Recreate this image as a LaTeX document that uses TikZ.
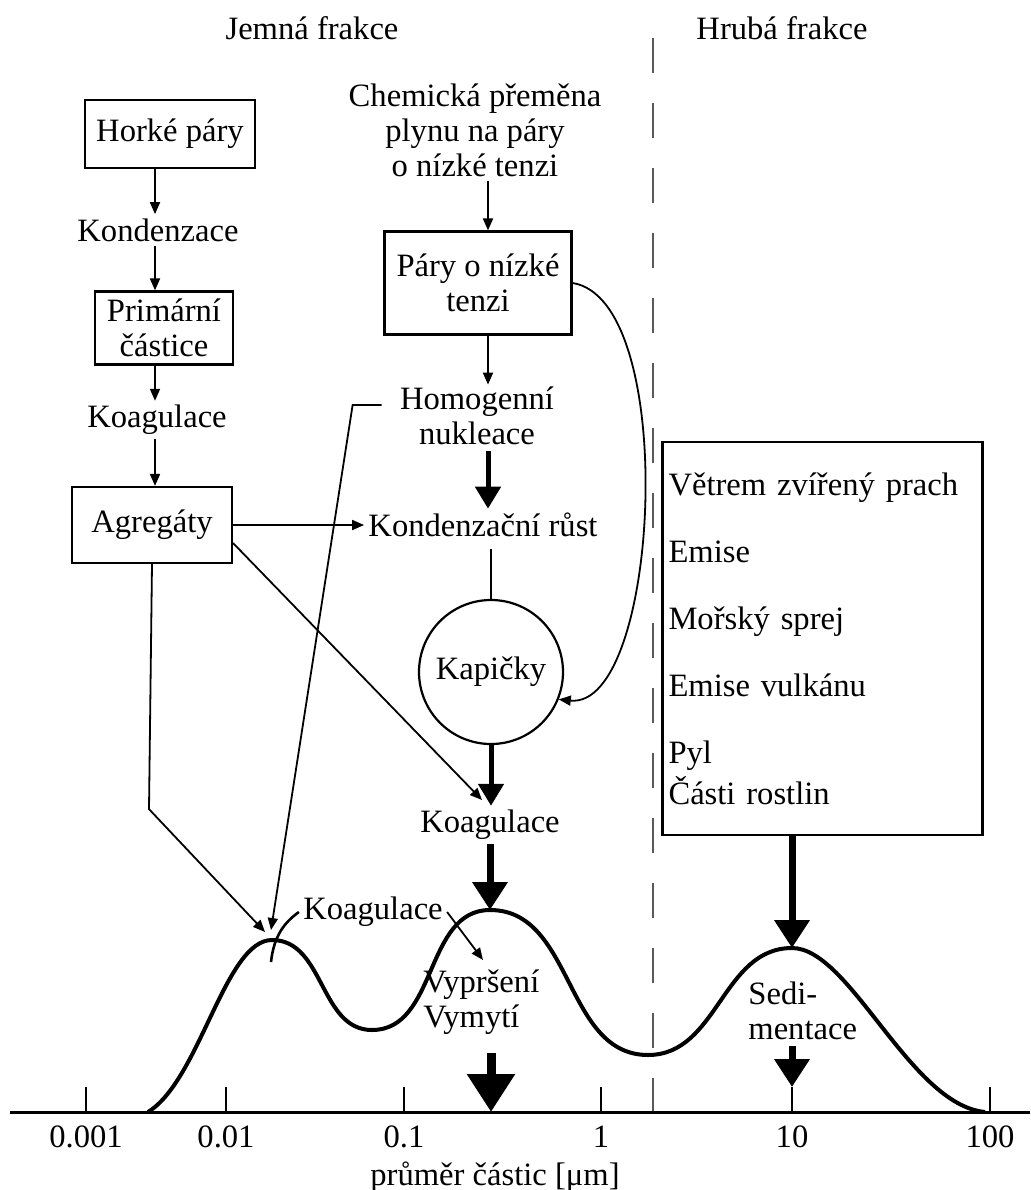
\documentclass[tikz,border=0pt]{standalone}
\usepackage{fontspec}
\setmainfont{Liberation Serif}
\usepackage{tikz}
\usetikzlibrary{calc,positioning,arrows.meta}
\tikzset{>={Triangle[width=5pt,length=6pt]}}

\begin{document}
\begin{tikzpicture}[
		x=0.5pt, y=-0.5pt,
		every node/.style={font=\fontsize{16.3}{17.5}\selectfont, inner sep=2pt},
		box/.style={draw, line width=1.1pt, align=center},
		link/.style={line width=0.9pt},
		midarrow/.style={line width=2.5pt, -{Triangle[width=12.5pt,length=11pt]}},
		bigarrow/.style={line width=3.5pt, -{Triangle[width=17pt,length=14pt]}},
		hugearrow/.style={line width=4.5pt, -{Triangle[width=23pt,length=19pt]}},
	]
	\useasboundingbox (0,0) rectangle (1030,1190);

	% columns and peaks
	\coordinate (leftcol) at (155,0);
	\coordinate (midcol) at (488,0);
	\coordinate (peak1) at (272,940);
	\coordinate (peak2) at (490,910);
	\coordinate (peak3) at (792,948);

	% titles and divider
	\node[name=jemna] at (312,28) {Jemná frakce};
	\node[name=hruba-title] at (782,28) {Hrubá frakce};
	\draw[line width=1pt, black!65, dash pattern=on 17.5pt off 15pt] (653,38) -- (653,1112);

	% left column
	\node[box, minimum width=85pt, minimum height=34pt, name=horke] at (170,134) {Horké páry};
	\node[name=kondenzace] at (158,230) {Kondenzace};
	\node[box, minimum width=69pt, minimum height=36.5pt, name=primarni] at (164,328) {Primární\\částice};
	\node[name=koagulace1] at (157,420) {Koagulace};
	\node[box, minimum width=80pt, minimum height=38pt, name=agregaty] at (152,525) {Agregáty};

	\draw[link,->] (horke.south -| leftcol) -- (kondenzace.north -| leftcol);
	\draw[link,->] (kondenzace.south -| leftcol) -- (primarni.north -| leftcol);
	\draw[link,->] (primarni.south -| leftcol) -- (koagulace1.north -| leftcol);
	\draw[link,->] (koagulace1.south -| leftcol) -- (agregaty.north -| leftcol);

	% middle column
	\node[align=center, name=chemicka] at (475,130) {Chemická přeměna\\plynu na páry\\o nízké tenzi};
	\node[box, minimum width=93.5pt, minimum height=51.5pt, name=pary] at (478,283) {Páry o nízké\\tenzi};
	\node[align=center, name=homogenni] at (477,416) {Homogenní\\nukleace};
	\node[name=kondrust] at (483,525) {Kondenzační růst};
	\node[draw, circle, line width=1.1pt, minimum size=72pt, name=kapicky] at (491,672) {Kapičky};
	\node[name=koagulace2] at (490,825) {Koagulace};

	\draw[link,->] (chemicka.south -| midcol) -- (pary.north -| midcol);
	\draw[link,->] (pary.south -| midcol) -- ($(homogenni.north -| midcol)+(0,2)$);
	\draw[midarrow] ($(homogenni.south -| midcol)+(0,2)$) -- (kondrust.north -| midcol);
	\draw[line width=1.3pt] ($(kondrust.south -| kapicky)+(0,8)$) -- (kapicky.north);
	\draw[midarrow] (kapicky.south) -- (koagulace2.north -| kapicky);
	\draw[bigarrow] (koagulace2.south -| peak2) -- (peak2);
	\draw[link,->] (pary.east) .. controls (680,300) and (660,710) .. (kapicky.-22);

	% links from the aggregates
	\coordinate (k2in) at (482,800);
	\coordinate (p1a) at (265,932);
	\coordinate (p1b) at (271,930);
	\draw[link,->] (agregaty.east) -- (kondrust.west |- agregaty.east);
	\draw[link,->] ($(agregaty.south east)+(0,-21)$) -- (k2in);
	\draw[link,->] (agregaty.south) -- ++(-3,245) -- (p1a);
	\draw[link,->] ($(homogenni.west)+(-14,-11)$) -- ++(-29,0) -- (p1b);

	% right box
	\node[box, align=left, text width=154pt, inner xsep=3pt, minimum height=196.5pt, name=hruba] at (822.5,638.5)
	{Větrem zvířený prach\\[16pt] Emise\\[16pt] Mořský sprej\\[16pt] Emise vulkánu\\[16pt] Pyl\\[2pt] Části rostlin};
	\draw[bigarrow] (hruba.south -| peak3) -- (peak3);

	% size distribution
	\draw[line width=2pt] (148,1112) .. controls (200,1080) and (225,940) .. (peak1)
		to[out=0,in=180] (372,1030) to[out=0,in=180] (peak2)
		to[out=0,in=180] (648,1055) to[out=0,in=180] (peak3)
		.. controls (850,948) and (910,1105) .. (985,1112);

	% removal processes
	\node[name=koagulace3] at (373,912) {Koagulace};
	\coordinate (vypin) at (483,960);
	\draw[line width=1.3pt] (271,962) .. controls (274,935) and (285,922) .. (koagulace3.west);
	\draw[link,->] (koagulace3.east) -- (vypin);
	\node[anchor=west, align=left, name=vyprseni] at (419,1002) {Vypršení\\Vymytí};
	\node[anchor=west, align=left, name=sedimentace] at (744,1011) {Sedi-\\mentace};

	% axis
	\coordinate (axis-vyp) at (491,1112);
	\coordinate (axis-sed) at (792,1087);
	\draw[line width=1.5pt] (10,1112) -- (1030,1112);
	\foreach \xpos/\lab [count=\i] in {86/0.001,226/0.01,404/0.1,601/1,792/10,990/100}{
			\draw[link] (\xpos,1087) -- (\xpos,1112);
			\node[name=tick\i] at (\xpos,1137) {\lab};
		}
	\node[name=xlabel] at (495,1177) {průměr částic [μm]};

	\draw[hugearrow] ($(vyprseni.south -| axis-vyp)+(0,14)$) -- (axis-vyp);
	\draw[bigarrow] ($(sedimentace.south -| axis-sed)+(0,2)$) -- (axis-sed);

\end{tikzpicture}
\end{document}
